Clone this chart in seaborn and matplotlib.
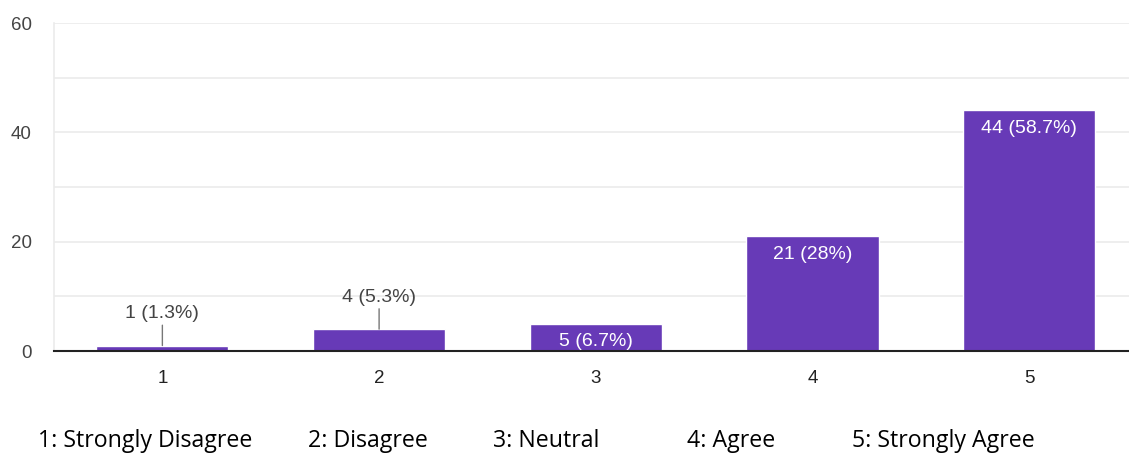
import matplotlib
matplotlib.use("Agg")
import matplotlib.pyplot as plt
import seaborn as sns
import pandas as pd

# data
ratings = ["1", "2", "3", "4", "5"]
counts = [1, 4, 5, 21, 44]
percents = ["1.3%", "5.3%", "6.7%", "28%", "58.7%"]
legend_labels = ["1: Strongly Disagree", "2: Disagree", "3: Neutral",
                 "4: Agree", "5: Strongly Agree"]

df = pd.DataFrame({"rating": ratings, "count": counts})

sns.set_style("white")
plt.rcParams["font.family"] = ["Liberation Sans", "DejaVu Sans"]

fig = plt.figure(figsize=(11.29, 4.59), dpi=100)
ax = fig.add_axes([54 / 1129, 1 - 351 / 459, 1 - 54 / 1129, 328 / 459])

sns.barplot(data=df, x="rating", y="count", color="#673ab7",
            saturation=1, width=0.61, ax=ax, zorder=3)

ax.set_ylim(0, 60)
ax.set_xlim(-0.5, 4.46)
ax.set_yticks([0, 20, 40, 60])
ax.set_yticks(range(0, 61, 10), minor=True)
ax.grid(axis="y", which="both", color="#ebebeb", linewidth=1.2, zorder=0)
ax.set_xlabel("")
ax.set_ylabel("")
ax.tick_params(axis="y", which="both", length=0, labelsize=13.5,
               labelcolor="#444444", pad=16)
ax.tick_params(axis="x", length=0, labelsize=13.5, labelcolor="#222222", pad=14)

for side in ["top", "right"]:
    ax.spines[side].set_visible(False)
ax.spines["left"].set_color("#ebebeb")
ax.spines["left"].set_linewidth(1.2)
ax.spines["bottom"].set_color("#222222")
ax.spines["bottom"].set_linewidth(1.5)
ax.spines["bottom"].set_zorder(4)

# value labels
for i, (c, p) in enumerate(zip(counts, percents)):
    text = f"{c} ({p})"
    if c < 5:
        ax.annotate(text, xy=(i, c), xytext=(0, 17), textcoords="offset points",
                    ha="center", va="bottom", fontsize=14, color="#444444",
                    arrowprops=dict(arrowstyle="-", color="#777777", lw=1,
                                    shrinkA=0, shrinkB=0))
    else:
        ax.annotate(text, xy=(i, c), xytext=(0, -7), textcoords="offset points",
                    ha="center", va="top", fontsize=14, color="white", zorder=5)

# bottom legend text
legend_x = [38, 308, 493, 687, 852]
for lx, lab in zip(legend_x, legend_labels):
    fig.text(lx / 1129, 1 - 441 / 459, lab, ha="left", va="center",
             fontsize=16.7, family=["Open Sans", "DejaVu Sans"], color="black")

fig.savefig("out.png", dpi=100)
